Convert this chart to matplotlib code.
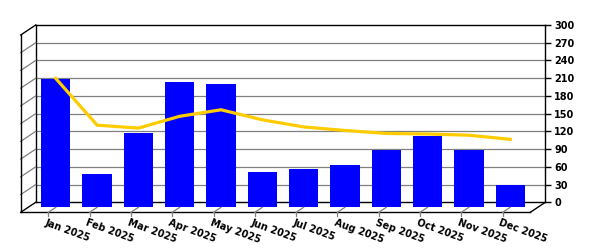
import numpy as np
import matplotlib
matplotlib.use("Agg")
import matplotlib.pyplot as plt
from matplotlib.lines import Line2D
from matplotlib.transforms import ScaledTranslation, IdentityTransform

# data
months = ["Jan 2025", "Feb 2025", "Mar 2025", "Apr 2025", "May 2025", "Jun 2025",
          "Jul 2025", "Aug 2025", "Sep 2025", "Oct 2025", "Nov 2025", "Dec 2025"]
bar_values = [217, 56, 126, 212, 209, 60, 64, 72, 97, 121, 97, 38]
line_values = [218, 139, 134, 154, 165, 148, 136, 130, 125, 124, 122, 115]
y_ticks = [0, 30, 60, 90, 120, 150, 180, 210, 240, 270, 300]

DPI = 100
DX, DY = -15, -10  # depth offset of the front plane, in pixels

fig = plt.figure(figsize=(6, 2.5), dpi=DPI)
ax = fig.add_axes([35.7 / 600, (250 - 202.3) / 250, (545.3 - 35.7) / 600, (202.3 - 25) / 250])
ax.set_xlim(-0.668, 11.668)
ax.set_ylim(0, 300)

font = dict(family="DejaVu Sans", weight="bold", size=7.0)

# back wall grid
for v in y_ticks[1:-1]:
    ax.axhline(v, color="#808080", lw=0.9, zorder=1)
for s in ax.spines.values():
    s.set_color("black")
    s.set_linewidth(1.0)

ax.set_xticks([])
ax.yaxis.tick_right()
ax.set_yticks(y_ticks)
ax.set_yticklabels([str(v) for v in y_ticks], fontdict=font)
ax.tick_params(axis="y", length=4.5, width=1, pad=2, color="black")

mid = ScaledTranslation(DX / 2 / DPI, DY / 2 / DPI, fig.dpi_scale_trans)

x = np.arange(len(months))
ax.bar(x, bar_values, width=0.71, color="#0000FF", edgecolor="none",
       transform=ax.transData + mid, clip_on=False, zorder=3)
ax.plot(x, line_values, color="#FFCC00", lw=2.3, solid_joinstyle="round",
        transform=ax.transData + mid, clip_on=False, zorder=4)


def pt(xa, ya, depth, trans):
    p = trans.transform((xa, ya))
    return p[0] + depth * DX, p[1] + depth * DY


def seg(p, q, color, lw=1.0):
    fig.add_artist(Line2D([p[0], q[0]], [p[1], q[1]], transform=IdentityTransform(),
                          color=color, lw=lw, clip_on=False, zorder=5))


ta = ax.transAxes
# left side wall grid diagonals
for v in y_ticks[1:-1]:
    ya = v / 300
    seg(pt(0, ya, 0, ta), pt(0, ya, 1, ta), "#808080", 0.9)
# outer 3d frame
seg(pt(0, 1, 0, ta), pt(0, 1, 1, ta), "black")
seg(pt(0, 1, 1, ta), pt(0, 0, 1, ta), "black")
seg(pt(0, 0, 0, ta), pt(0, 0, 1, ta), "black")
seg(pt(0, 0, 1, ta), pt(1, 0, 1, ta), "black")
seg(pt(1, 0, 1, ta), pt(1, 0, 0, ta), "black")

# category ticks and labels on the front edge
td = ax.transData
for i, m in enumerate(months):
    f = pt(i, 0, 1, td)
    seg(f, pt(i, 0, 0.5, td), "#808080", 0.9)
    seg(f, (f[0], f[1] - 4), "#808080", 0.9)
    fig.text((f[0] - 1.5) / (6 * DPI), (f[1] - 5.5) / (2.5 * DPI), m, fontdict=font,
             rotation=-20, rotation_mode="anchor", ha="left", va="top")

fig.savefig("out.png", dpi=DPI)
